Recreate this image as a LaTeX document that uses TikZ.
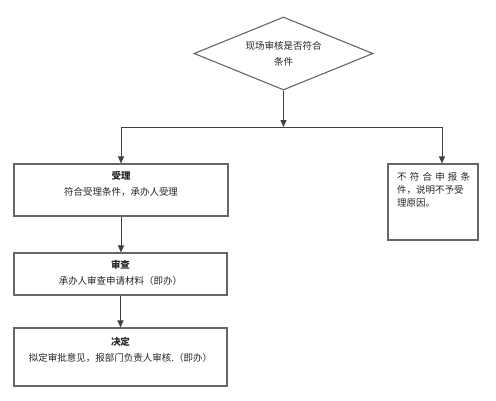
\documentclass[tikz,border=0pt]{standalone}
\usepackage{fontspec}
\setmainfont{Noto Sans CJK SC}
\usetikzlibrary{shapes.geometric,arrows.meta}
\begin{document}
\begin{tikzpicture}[x=1pt,y=-1pt,
  boxline/.style={draw=black!60,line width=1.1pt},
  stepbox/.style={boxline,rectangle,inner sep=0pt},
  label/.style={inner sep=0pt,align=center,text=black!85,font=\fontsize{9.5}{16}\selectfont},
  conn/.style={draw=black!75,line width=1pt},
  arr/.style={conn,-{Triangle[length=7pt,width=6pt]}}]
\useasboundingbox (0,0) rectangle (496,400);
\fill[white] (0,0) rectangle (496,400);
% decision
\node[boxline,diamond,aspect=2.45,minimum width=179pt,minimum height=73pt,inner sep=0pt,
  label/.append style={}] (d) at (283.5,53.5) {};
\node[label] (dt) at (283.5,54) {现场审核是否符合\\条件};
% boxes
\node[stepbox,minimum width=214pt,minimum height=52pt] (b1) at (121,190) {};
\node[stepbox,minimum width=213pt,minimum height=42pt] (b2) at (120.5,274) {};
\node[stepbox,minimum width=213pt,minimum height=58pt] (b3) at (120.5,357) {};
\node[stepbox,minimum width=90pt,minimum height=76pt] (b4) at (433,202) {};
% texts
\node[label] (t1) at (121,184) {\textbf{受理}\\符合受理条件，承办人受理};
\node[label] (t2) at (120.5,272.5) {\textbf{审查}\\承办人审查申请材料（即办）};
\node[label] (t3) at (120.5,350) {\textbf{决定}\\拟定审批意见，报部门负责人审核.（即办）};
\node[label,align=left,anchor=north west,font=\fontsize{9.5}{13}\selectfont] (t4) at (397,172)
  {\makebox[73pt][s]{不\hfill 符\hfill 合\hfill 申\hfill 报\hfill 条}\\件，说明不予受\\理原因。};
% connectors
\coordinate (j) at (283.5,127);
\coordinate (L) at (121,127);
\coordinate (R) at (442,127);
\draw[arr] (d.south) -- (j);
\draw[conn] (L) -- (R);
\draw[arr] (L) -- (L |- b1.north);
\draw[arr] (R) -- (R |- b4.north);
\draw[arr] (b1.south) -- (b1.south |- b2.north);
\draw[arr] (b2.south) -- (b2.south |- b3.north);
\end{tikzpicture}
\end{document}
